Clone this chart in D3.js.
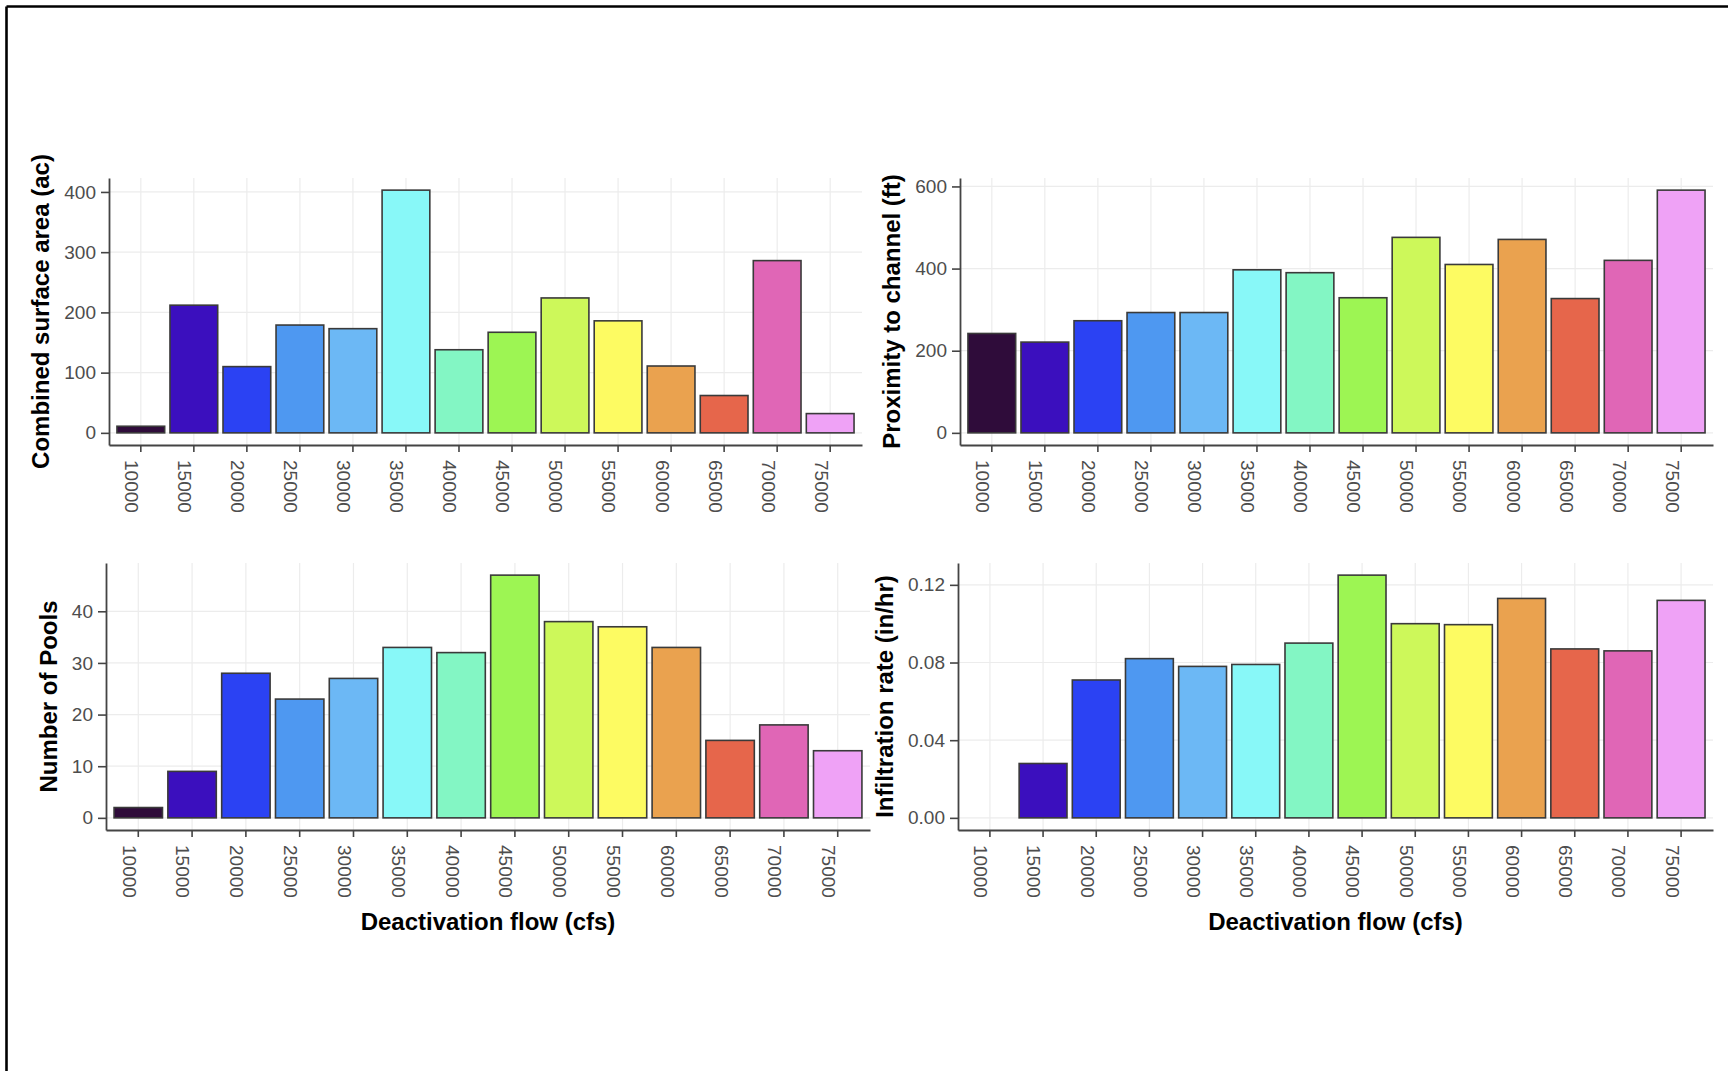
<!DOCTYPE html>
<html>
<head>
<meta charset="utf-8">
<script src="https://cdn.jsdelivr.net/npm/d3@7"></script>
<style>
  html, body { margin: 0; padding: 0; background: #ffffff; }
  svg { display: block; }
</style>
</head>
<body>
<svg id="chart" width="1728" height="1071"></svg>
<script>
// Deactivation flow categories (cfs) shared by all four panels
const flows = ["10000", "15000", "20000", "25000", "30000", "35000", "40000",
               "45000", "50000", "55000", "60000", "65000", "70000", "75000"];

// One fill colour per flow category
const barColors = ["#2F0C3A", "#3B0FBE", "#2B42F3", "#4E98F1", "#6CB8F5", "#88F8F8", "#83F6C4",
                   "#9DF553", "#CDF85A", "#FDFB62", "#EAA24F", "#E6664B", "#E066B6", "#EFA2F6"];

// Series values, one per flow category
const surfaceArea  = [11, 212, 110, 179, 173, 403, 138, 167, 224, 186, 111, 62, 286, 32];
const proximity    = [242, 221, 273, 293, 293, 397, 390, 329, 476, 410, 471, 327, 420, 591];
const pools        = [2, 9, 28, 23, 27, 33, 32, 47, 38, 37, 33, 15, 18, 13];
const infiltration = [null, 0.028, 0.071, 0.082, 0.078, 0.079, 0.090, 0.125, 0.100, 0.0995, 0.113, 0.087, 0.086, 0.112];

// Tick values for each y axis
const surfaceTicks      = [0, 100, 200, 300, 400];
const proximityTicks    = [0, 200, 400, 600];
const poolTicks         = [0, 10, 20, 30, 40];
const infiltrationTicks = [0, 0.04, 0.08, 0.12];

// Axis titles
const surfaceTitle      = "Combined surface area (ac)";
const proximityTitle    = "Proximity to channel (ft)";
const poolTitle         = "Number of Pools";
const infiltrationTitle = "Infiltration rate (in/hr)";
const flowTitle         = "Deactivation flow (cfs)";

const FONT = "'Liberation Sans', Arial, Helvetica, sans-serif";
const svg = d3.select("#chart");

// outer frame (top and left edges)
svg.append("line").attr("x1", 6.5).attr("x2", 1728).attr("y1", 6.5).attr("y2", 6.5)
  .attr("stroke", "#000").attr("stroke-width", 2.6);
svg.append("line").attr("x1", 6.5).attr("x2", 6.5).attr("y1", 6.5).attr("y2", 1071)
  .attr("stroke", "#000").attr("stroke-width", 2.6);

const panels = [
  { values: surfaceArea,  ticks: surfaceTicks,      fmt: d3.format("d"),   yTitle: surfaceTitle,
    xTitle: false, box: { left: 109, right: 862,  top: 178, bottom: 445 } },
  { values: proximity,    ticks: proximityTicks,    fmt: d3.format("d"),   yTitle: proximityTitle,
    xTitle: false, box: { left: 960, right: 1713, top: 178, bottom: 445 } },
  { values: pools,        ticks: poolTicks,         fmt: d3.format("d"),   yTitle: poolTitle,
    xTitle: true,  box: { left: 106, right: 870,  top: 563, bottom: 830 } },
  { values: infiltration, ticks: infiltrationTicks, fmt: d3.format(".2f"), yTitle: infiltrationTitle,
    xTitle: true,  box: { left: 958, right: 1713, top: 563, bottom: 830 } }
];

const rows = flows.map((f, i) => ({ flow: f, color: barColors[i] }));

panels.forEach(p => {
  const { left, right, top, bottom } = p.box;
  const g = svg.append("g");

  const x = d3.scaleBand().domain(flows).range([left, right])
    .paddingInner(0.1).paddingOuter(0.15);

  const vmax = d3.max(p.values.filter(v => v != null));
  const pad = vmax * 0.05;
  const y = d3.scaleLinear().domain([-pad, vmax + pad]).range([bottom, top]);

  // grid
  const grid = g.append("g").attr("stroke", "#ececec").attr("stroke-width", 1.2);
  grid.selectAll("line.h").data(p.ticks).join("line")
    .attr("x1", left).attr("x2", right)
    .attr("y1", d => y(d)).attr("y2", d => y(d));
  grid.selectAll("line.v").data(flows).join("line")
    .attr("x1", d => x(d) + x.bandwidth() / 2).attr("x2", d => x(d) + x.bandwidth() / 2)
    .attr("y1", top).attr("y2", bottom);

  // bars
  g.append("g").selectAll("rect")
    .data(rows.map((r, i) => ({ ...r, value: p.values[i] })).filter(d => d.value != null))
    .join("rect")
    .attr("x", d => x(d.flow))
    .attr("width", x.bandwidth())
    .attr("y", d => y(Math.max(0, d.value)))
    .attr("height", d => Math.abs(y(d.value) - y(0)))
    .attr("fill", d => d.color)
    .attr("stroke", "#3a3a3a")
    .attr("stroke-width", 1.6);

  // x axis
  const xa = g.append("g").attr("transform", `translate(0,${bottom})`)
    .call(d3.axisBottom(x).tickSize(7).tickSizeOuter(0));
  xa.selectAll("text")
    .attr("transform", "rotate(90)")
    .attr("x", 15).attr("y", 0).attr("dy", "0.82em")
    .attr("text-anchor", "start")
    .attr("fill", "#4d4d4d")
    .style("font-family", FONT).style("font-size", "19px");

  // y axis
  const ya = g.append("g").attr("transform", `translate(${left},0)`)
    .call(d3.axisLeft(y).tickValues(p.ticks).tickFormat(p.fmt).tickSize(8).tickPadding(5).tickSizeOuter(0));
  ya.selectAll("text")
    .attr("fill", "#4d4d4d")
    .style("font-family", FONT).style("font-size", "19px");

  [xa, ya].forEach(a => {
    a.select(".domain").attr("stroke", "#444").attr("stroke-width", 1.8);
    a.selectAll(".tick line").attr("stroke", "#444").attr("stroke-width", 1.6);
  });

  // y title, placed just outside the widest tick label
  let wmax = 0;
  ya.selectAll("text").each(function () { wmax = Math.max(wmax, this.getComputedTextLength()); });
  const tx = left - 13 - wmax - 15;
  g.append("text")
    .attr("transform", `translate(${tx},${(top + bottom) / 2}) rotate(-90)`)
    .attr("text-anchor", "middle")
    .style("font-family", FONT).style("font-size", "24px").style("font-weight", "bold")
    .attr("fill", "#000")
    .text(p.yTitle);

  if (p.xTitle) {
    g.append("text")
      .attr("x", (left + right) / 2).attr("y", 930)
      .attr("text-anchor", "middle")
      .style("font-family", FONT).style("font-size", "24px").style("font-weight", "bold")
      .attr("fill", "#000")
      .text(flowTitle);
  }
});
</script>
</body>
</html>
